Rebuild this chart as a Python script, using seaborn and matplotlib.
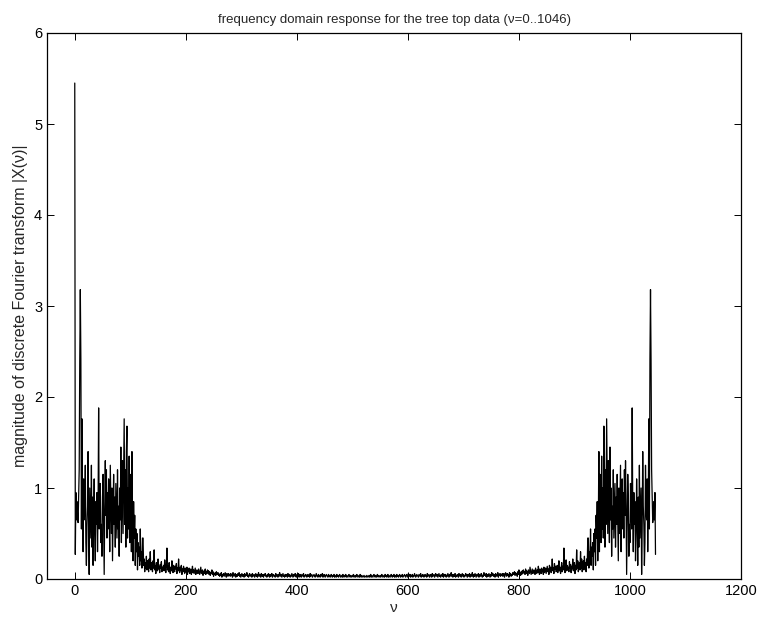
import numpy as np
import pandas as pd
import matplotlib
matplotlib.use("Agg")
import matplotlib.pyplot as plt
import seaborn as sns

# |X(nu)| for nu = 0..523 (read off the picture); the spectrum of real data is
# symmetric, |X(nu)| = |X(1047 - nu)|, so the upper half repeats these values.
mag_half = [
    5.45, 0.27, 0.95, 0.65, 0.85, 0.70, 0.62, 0.90, 1.20, 2.40, 3.18, 2.42, 0.55, 1.76, 0.85, 0.30, 1.10, 0.65, 0.75, 1.25,
    0.40, 0.15, 0.60, 0.80, 1.40, 0.55, 0.05, 1.00, 0.70, 0.45, 1.25, 0.35, 0.90, 0.15, 0.70, 1.10, 0.50, 0.20, 0.85, 0.60,
    0.95, 0.30, 0.80, 1.88, 0.55, 0.75, 1.05, 0.40, 0.60, 0.25, 0.90, 1.15, 0.65, 0.05, 0.80, 1.30, 0.70, 1.20, 0.45, 0.95,
    0.55, 1.10, 0.75, 0.30, 1.25, 0.85, 0.50, 1.00, 0.20, 0.70, 1.15, 0.60, 0.90, 0.35, 1.05, 0.75, 0.45, 1.20, 0.55, 0.80,
    0.25, 1.00, 0.65, 1.45, 0.40, 0.95, 1.30, 0.50, 1.10, 1.76, 0.60, 1.20, 0.35, 1.40, 1.68, 0.45, 1.00, 0.55, 1.35, 0.40,
    0.90, 1.15, 0.30, 1.40, 0.60, 0.20, 0.85, 0.45, 0.70, 0.15, 0.55, 0.30, 0.50, 0.10, 0.40, 0.25, 0.35, 0.15, 0.55, 0.20,
    0.30, 0.12, 0.45, 0.45, 0.15, 0.22, 0.08, 0.18, 0.12, 0.25, 0.10, 0.20, 0.15, 0.08, 0.22, 0.12, 0.30, 0.10, 0.18, 0.14,
    0.08, 0.20, 0.12, 0.32, 0.10, 0.15, 0.06, 0.18, 0.12, 0.09, 0.22, 0.11, 0.14, 0.07, 0.16, 0.12, 0.19, 0.08, 0.13, 0.10,
    0.15, 0.09, 0.21, 0.12, 0.07, 0.16, 0.34, 0.10, 0.14, 0.08, 0.18, 0.11, 0.06, 0.13, 0.09, 0.20, 0.12, 0.07, 0.15, 0.10,
    0.08, 0.14, 0.11, 0.17, 0.06, 0.12, 0.09, 0.22, 0.10, 0.07, 0.13, 0.09, 0.15, 0.05, 0.11, 0.08, 0.14, 0.10, 0.06, 0.12,
    0.09, 0.07, 0.13, 0.05, 0.10, 0.08, 0.12, 0.06, 0.09, 0.11, 0.05, 0.08, 0.14, 0.07, 0.10, 0.06, 0.09, 0.12, 0.05, 0.08,
    0.10, 0.07, 0.06, 0.11, 0.08, 0.05, 0.09, 0.13, 0.06, 0.08, 0.10, 0.04, 0.07, 0.09, 0.06, 0.11, 0.05, 0.08, 0.07, 0.10,
    0.06, 0.09, 0.05, 0.08, 0.04, 0.07, 0.06, 0.10, 0.05, 0.08, 0.03, 0.06, 0.05, 0.07, 0.04, 0.08, 0.06, 0.05, 0.07, 0.04,
    0.05, 0.03, 0.06, 0.04, 0.07, 0.02, 0.05, 0.04, 0.06, 0.03, 0.05, 0.07, 0.04, 0.02, 0.06, 0.05, 0.03, 0.06, 0.04, 0.05,
    0.03, 0.06, 0.04, 0.05, 0.02, 0.07, 0.04, 0.03, 0.05, 0.06, 0.02, 0.04, 0.05, 0.03, 0.06, 0.04, 0.07, 0.03, 0.05, 0.02,
    0.04, 0.06, 0.03, 0.05, 0.04, 0.02, 0.06, 0.03, 0.05, 0.04, 0.07, 0.03, 0.04, 0.02, 0.05, 0.06, 0.03, 0.04, 0.05, 0.02,
    0.06, 0.03, 0.04, 0.05, 0.02, 0.04, 0.06, 0.03, 0.05, 0.02, 0.04, 0.07, 0.03, 0.05, 0.04, 0.02, 0.06, 0.04, 0.03, 0.05,
    0.02, 0.05, 0.04, 0.06, 0.03, 0.04, 0.02, 0.05, 0.03, 0.06, 0.04, 0.02, 0.05, 0.03, 0.04, 0.06, 0.02, 0.04, 0.05, 0.03,
    0.04, 0.02, 0.06, 0.03, 0.05, 0.04, 0.02, 0.05, 0.03, 0.07, 0.04, 0.03, 0.05, 0.02, 0.04, 0.06, 0.03, 0.04, 0.02, 0.05,
    0.03, 0.05, 0.04, 0.02, 0.06, 0.03, 0.04, 0.05, 0.02, 0.04, 0.03, 0.06, 0.04, 0.02, 0.05, 0.03, 0.04, 0.06, 0.03, 0.02,
    0.05, 0.04, 0.03, 0.06, 0.02, 0.04, 0.05, 0.03, 0.02, 0.05, 0.04, 0.03, 0.06, 0.02, 0.04, 0.03, 0.05, 0.04, 0.02, 0.03,
    0.05, 0.03, 0.04, 0.02, 0.06, 0.03, 0.04, 0.05, 0.02, 0.03, 0.04, 0.05, 0.03, 0.02, 0.04, 0.06, 0.03, 0.04, 0.02, 0.05,
    0.03, 0.04, 0.02, 0.05, 0.03, 0.04, 0.06, 0.02, 0.03, 0.05, 0.04, 0.02, 0.03, 0.05, 0.04, 0.03, 0.02, 0.05, 0.03, 0.04,
    0.02, 0.04, 0.05, 0.03, 0.02, 0.04, 0.03, 0.05, 0.02, 0.04, 0.03, 0.02, 0.05, 0.03, 0.04, 0.02, 0.03, 0.05, 0.04, 0.02,
    0.03, 0.04, 0.02, 0.05, 0.03, 0.02, 0.04, 0.03, 0.05, 0.02, 0.04, 0.03, 0.02, 0.04, 0.05, 0.03, 0.02, 0.04, 0.03, 0.02,
    0.04, 0.03, 0.05, 0.02, 0.03, 0.04, 0.02, 0.03, 0.05, 0.04, 0.02, 0.03, 0.04, 0.02, 0.05, 0.03, 0.02, 0.04, 0.03, 0.02,
    0.03, 0.04, 0.02, 0.03,
]
N = 1047
magnitude = mag_half + mag_half[1:][::-1]
nu = list(range(N))

x_ticks = [0, 200, 400, 600, 800, 1000, 1200]
y_ticks = [0, 1, 2, 3, 4, 5, 6]

df = pd.DataFrame({"nu": nu, "mag": magnitude})

sns.set_style("ticks")
plt.rcParams["font.family"] = ["Liberation Sans", "DejaVu Sans"]
plt.rcParams["xtick.direction"] = "in"
plt.rcParams["ytick.direction"] = "in"

fig = plt.figure(figsize=(7.59, 6.19), dpi=100)
ax = fig.add_axes([47 / 759, 1 - 579 / 619, (741 - 47) / 759, (579 - 33) / 619])

sns.lineplot(data=df, x="nu", y="mag", ax=ax, color="black", linewidth=0.9)

ax.set_xlim(-50, 1200)
ax.set_ylim(0, 6)
ax.set_xticks(x_ticks)
ax.set_yticks(y_ticks)
ax.tick_params(axis="both", which="both", direction="in", length=5, width=0.7,
               top=True, right=True, labelsize=10.5, colors="black")
for s in ax.spines.values():
    s.set_linewidth(0.9)
    s.set_color("black")
    s.set_visible(True)

ax.set_xlabel("ν", fontsize=11, labelpad=2)
ax.set_ylabel("magnitude of discrete Fourier transform |X(ν)|", fontsize=11.5, labelpad=4)
ax.set_title("frequency domain response for the tree top data (ν=0..1046)", fontsize=9.5, pad=7)

fig.savefig("out.png", dpi=100)
